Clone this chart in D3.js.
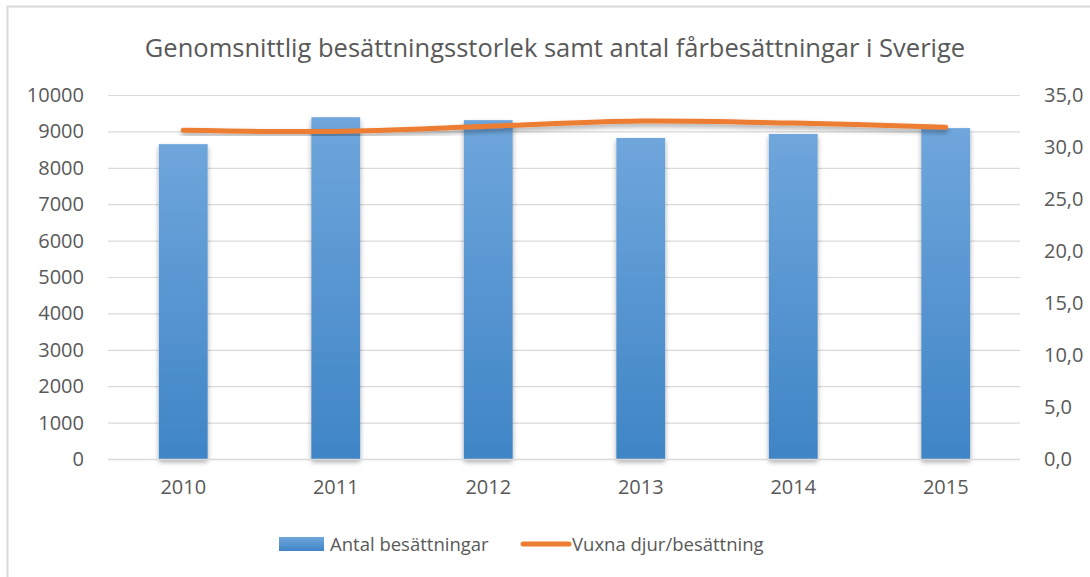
<!DOCTYPE html>
<html>
<head>
<meta charset="utf-8">
<script src="https://cdn.jsdelivr.net/npm/d3@7"></script>
<style>
  body { margin: 0; background: #fff; }
  svg { display: block; font-family: "Open Sans", "Noto Sans", sans-serif; }
</style>
</head>
<body>
<svg id="chart" width="1090" height="577"></svg>
<script>
const years = ["2010", "2011", "2012", "2013", "2014", "2015"];
const herds = [8650, 9390, 9310, 8820, 8930, 9090];       // Antal besättningar
const perHerd = [31.6, 31.5, 32.0, 32.5, 32.3, 31.9];      // Vuxna djur/besättning
const leftTicks = d3.range(0, 10001, 1000);
const rightTicks = d3.range(0, 35.1, 5);

const svg = d3.select("#chart");
const textColor = "#595959";
const gridColor = "#d9d9d9";
const fontFamily = '"Open Sans", "Noto Sans", sans-serif';

const m = {left: 107, right: 1022, top: 95, bottom: 459};

const x = d3.scaleBand().domain(years).range([m.left, m.right]).paddingInner(0.68).paddingOuter(0.34);
const yL = d3.scaleLinear().domain([0, 10000]).range([m.bottom, m.top]);
const yR = d3.scaleLinear().domain([0, 35]).range([m.bottom, m.top]);

const defs = svg.append("defs");
const grad = defs.append("linearGradient").attr("id", "barGrad").attr("x1", 0).attr("y1", 0).attr("x2", 0).attr("y2", 1);
grad.append("stop").attr("offset", "0%").attr("stop-color", "#6fa6dc");
grad.append("stop").attr("offset", "100%").attr("stop-color", "#3f85c6");

const shadow = defs.append("filter").attr("id", "shadow").attr("x", "-20%").attr("y", "-20%").attr("width", "140%").attr("height", "160%");
shadow.append("feDropShadow").attr("dx", 0).attr("dy", 3).attr("stdDeviation", 2.5)
  .attr("flood-color", "#000").attr("flood-opacity", 0.35);

// chart area border
svg.append("path")
  .attr("d", "M7.5,577 V6.5 H1090")
  .attr("fill", "none").attr("stroke", gridColor).attr("stroke-width", 2);

// title
svg.append("text")
  .attr("x", 555).attr("y", 57)
  .attr("text-anchor", "middle")
  .attr("font-size", 25.5)
  .attr("fill", textColor)
  .text("Genomsnittlig besättningsstorlek samt antal fårbesättningar i Sverige");

// gridlines
svg.append("g")
  .selectAll("line")
  .data(leftTicks)
  .join("line")
  .attr("x1", m.left + 1).attr("x2", m.right - 2)
  .attr("y1", d => yL(d) + 0.5).attr("y2", d => yL(d) + 0.5)
  .attr("stroke", gridColor).attr("stroke-width", 1.2);

function styleAxis(g) {
  g.attr("font-family", fontFamily).attr("font-size", 20);
  g.select(".domain").remove();
  g.selectAll("text").attr("fill", textColor);
}

// left axis
svg.append("g")
  .attr("transform", `translate(${m.left},0)`)
  .call(d3.axisLeft(yL).tickValues(leftTicks).tickSize(0).tickPadding(23).tickFormat(d3.format("d")))
  .call(styleAxis);

// right axis
svg.append("g")
  .attr("transform", `translate(${m.right},0)`)
  .call(d3.axisRight(yR).tickValues(rightTicks).tickSize(0).tickPadding(22)
    .tickFormat(d => d3.format(".1f")(d).replace(".", ",")))
  .call(styleAxis);

// bars
svg.append("g")
  .selectAll("rect")
  .data(years)
  .join("rect")
  .attr("x", d => x(d))
  .attr("width", x.bandwidth())
  .attr("y", (d, i) => yL(herds[i]))
  .attr("height", (d, i) => yL(0) - yL(herds[i]))
  .attr("fill", "url(#barGrad)")
  .attr("filter", "url(#shadow)");

// bottom axis
svg.append("g")
  .attr("transform", `translate(0,${m.bottom})`)
  .call(d3.axisBottom(x).tickSize(0).tickPadding(21))
  .call(styleAxis);
svg.append("line")
  .attr("x1", m.left + 1).attr("x2", m.right - 2)
  .attr("y1", m.bottom + 0.5).attr("y2", m.bottom + 0.5)
  .attr("stroke", gridColor).attr("stroke-width", 1.5);

// line
const line = d3.line()
  .x((d, i) => x(years[i]) + x.bandwidth() / 2)
  .y(d => yR(d))
  .curve(d3.curveCatmullRom.alpha(0.5));

svg.append("path")
  .datum(perHerd)
  .attr("d", line)
  .attr("fill", "none")
  .attr("stroke", "#ed7d31")
  .attr("stroke-width", 5)
  .attr("stroke-linecap", "round")
  .attr("filter", "url(#shadow)");

// legend
const lg = svg.append("g").attr("font-size", 18.5).attr("fill", textColor);
lg.append("rect").attr("x", 279).attr("y", 537).attr("width", 45).attr("height", 14).attr("fill", "url(#barGrad)");
lg.append("text").attr("x", 330).attr("y", 551).text("Antal besättningar");
lg.append("line").attr("x1", 523).attr("x2", 569).attr("y1", 544).attr("y2", 544)
  .attr("stroke", "#ed7d31").attr("stroke-width", 5).attr("stroke-linecap", "round");
lg.append("text").attr("x", 572).attr("y", 551).text("Vuxna djur/besättning");
</script>
</body>
</html>
